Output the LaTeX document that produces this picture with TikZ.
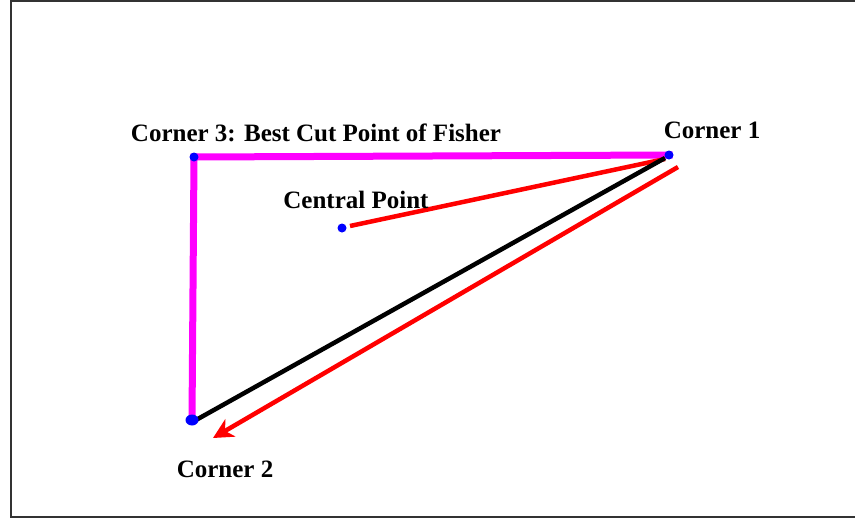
\documentclass[tikz,border=0pt]{standalone}
\usepackage{fontspec}
\setmainfont{Liberation Serif}
\usetikzlibrary{arrows.meta,positioning,calc,shapes.geometric}
\definecolor{CutMagenta}{HTML}{FF00FF}
\definecolor{CutBlue}{HTML}{0000FF}
\definecolor{CutRed}{HTML}{FF0000}
\definecolor{CutFrame}{HTML}{333333}

\begin{document}
\begin{tikzpicture}[x=1pt, y=-1pt,
    cutdot/.style={circle, fill=CutBlue, inner sep=0pt, minimum size=9pt},
    cutlabel/.style={font=\bfseries\fontsize{25}{28}\selectfont, inner sep=0pt},
    fisher/.style={draw=CutMagenta, line width=7pt},
    redline/.style={draw=CutRed, line width=4.5pt}]
  \useasboundingbox (0,0) rectangle (855,520);
  \draw[CutFrame, line width=1.5pt] (855,1) -- (11,1) -- (11,517) -- (855,517);

  % the three corners and the centre
  \coordinate (c3) at (194,157);
  \coordinate (c1) at (669,155);
  \coordinate (c2) at (192,420);
  \coordinate (cp) at (342,228);

  \draw[fisher, line cap=rect] (c1) -- (c3) -- (c2);
  \draw[redline] ($(cp)+(8,-2)$) -- ($(c1)+(-4,4)$);
  \draw[black, line width=4.5pt] ($(c2)+(4,0)$) -- ($(c1)+(-4,3)$);

  \coordinate (a1) at (678,167);
  \coordinate (a2) at (213,438);
  \draw[redline, -{Stealth[length=20pt, width=20pt, inset=6pt]}] (a1) -- (a2);

  \node[cutdot] (n3) at (c3) {};
  \node[cutdot] (n1) at (c1) {};
  \node[cutdot, ellipse, minimum width=13pt, minimum height=11pt] (n2) at (c2) {};
  \node[cutdot] (ncp) at (cp) {};

  \node[cutlabel] (l3) at (316,133) {Corner 3: Best Cut Point of Fisher};
  \node[cutlabel] (l1) at (712,130) {Corner 1};
  \node[cutlabel] (lcp) at (356,200) {Central Point};
  \node[cutlabel] (l2) at (225,469) {Corner 2};
\end{tikzpicture}
\end{document}
